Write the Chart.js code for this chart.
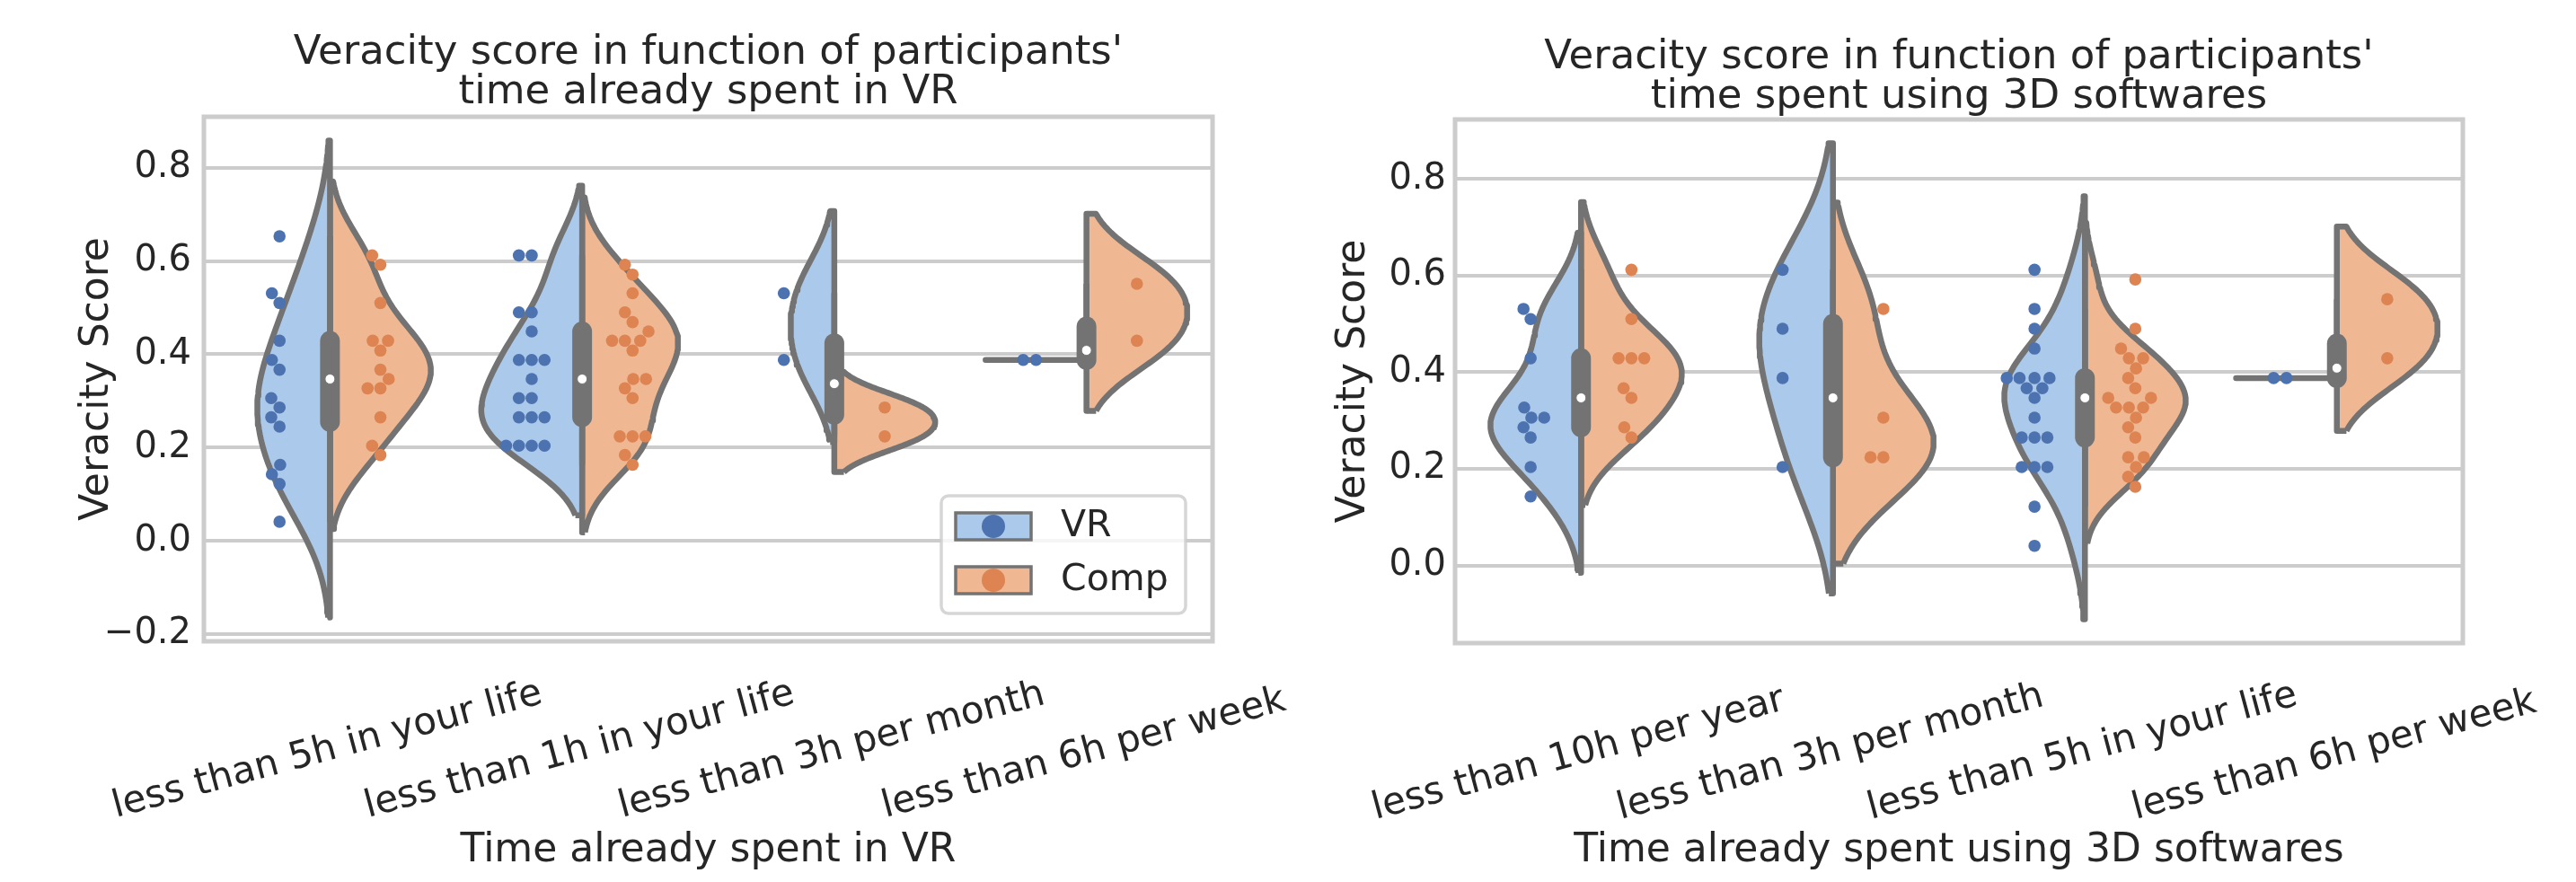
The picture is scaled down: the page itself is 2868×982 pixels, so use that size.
<!DOCTYPE html>
<html>
<head>
<meta charset="utf-8">
<title>Veracity score violins</title>
<script src="https://cdn.jsdelivr.net/npm/chart.js@4.4.1/dist/chart.umd.min.js"></script>
<style>
  html, body { margin: 0; padding: 0; background: #ffffff; }
  #wrap { position: relative; width: 2868px; height: 982px; }
  .panel { position: absolute; top: 0; width: 1434px; height: 982px; }
</style>
</head>
<body>
<div id="wrap">
  <div class="panel" style="left:0"><canvas id="vrChart" width="1434" height="982"></canvas></div>
  <div class="panel" style="left:1434px"><canvas id="softChart" width="1434" height="982"></canvas></div>
</div>
<script>
// hue levels
const groups = ["VR", "Comp"];

// left panel: time already spent in VR
const vrCategories = ["less than 5h in your life", "less than 1h in your life", "less than 3h per month", "less than 6h per week"];
const vrScoresVR = [
  [0.653, 0.531, 0.510, 0.429, 0.388, 0.367, 0.306, 0.286, 0.265, 0.245, 0.163, 0.143, 0.122, 0.041],
  [0.612, 0.612, 0.490, 0.490, 0.449, 0.388, 0.388, 0.388, 0.347, 0.306, 0.306, 0.265, 0.265, 0.265, 0.204, 0.204, 0.204, 0.204],
  [0.531, 0.388],
  [0.388, 0.388]
];
const vrScoresComp = [
  [0.612, 0.592, 0.510, 0.429, 0.429, 0.408, 0.367, 0.347, 0.327, 0.327, 0.265, 0.204, 0.184],
  [0.592, 0.571, 0.531, 0.490, 0.469, 0.449, 0.429, 0.429, 0.429, 0.408, 0.347, 0.347, 0.327, 0.306, 0.224, 0.224, 0.224, 0.184, 0.163],
  [0.286, 0.224],
  [0.551, 0.429]
];

// right panel: time spent using 3D softwares
const softCategories = ["less than 10h per year", "less than 3h per month", "less than 5h in your life", "less than 6h per week"];
const softScoresVR = [
  [0.531, 0.510, 0.429, 0.327, 0.306, 0.306, 0.286, 0.265, 0.204, 0.143],
  [0.612, 0.490, 0.388, 0.204],
  [0.612, 0.531, 0.490, 0.449, 0.388, 0.388, 0.388, 0.388, 0.367, 0.367, 0.347, 0.306, 0.265, 0.265, 0.265, 0.204, 0.204, 0.204, 0.122, 0.041],
  [0.388, 0.388]
];
const softScoresComp = [
  [0.612, 0.510, 0.429, 0.429, 0.429, 0.367, 0.347, 0.286, 0.265],
  [0.531, 0.306, 0.224, 0.224],
  [0.592, 0.490, 0.449, 0.429, 0.429, 0.408, 0.388, 0.367, 0.347, 0.347, 0.327, 0.327, 0.327, 0.306, 0.286, 0.265, 0.224, 0.224, 0.204, 0.184, 0.163],
  [0.551, 0.429]
];

const FONT = '"DejaVu Sans", "Liberation Sans", sans-serif';
const TEXT = "#262626";
const GRAY = "#737373";
const GRID = "#cccccc";
const FILL = ["#abc9ea", "#efb792"];
const DOT = ["#4c72b0", "#dd8452"];
const HALF = 0.4;      // half violin width, in category units
const SWARM_D = 13.6;  // swarm point spacing, px

// seaborn-like kde (scott bandwidth, cut = 2, 100 grid points)
function kde(values) {
    const n = values.length;
    const mean = values.reduce((a, b) => a + b, 0) / n;
    const sd = Math.sqrt(values.reduce((a, v) => a + (v - mean) ** 2, 0) / (n - 1));
    const bw = sd * Math.pow(n, -1 / 5);
    const lo = Math.min(...values) - 2 * bw;
    const hi = Math.max(...values) + 2 * bw;
    const support = [], density = [];
    for (let k = 0; k < 100; k++) {
        const s = lo + (hi - lo) * k / 99;
        let d = 0;
        values.forEach(v => { d += Math.exp(-0.5 * ((s - v) / bw) ** 2); });
        support.push(s);
        density.push(d / (n * bw * Math.sqrt(2 * Math.PI)));
    }
    return { support, density };
}

function quantile(sorted, q) {
    const pos = (sorted.length - 1) * q;
    const a = Math.floor(pos), b = Math.ceil(pos);
    return sorted[a] + (sorted[b] - sorted[a]) * (pos - a);
}

function boxStats(values) {
    const s = [...values].sort((a, b) => a - b);
    const q1 = quantile(s, 0.25), med = quantile(s, 0.5), q3 = quantile(s, 0.75);
    const lim = 1.5 * (q3 - q1);
    const lo = Math.min(...s.filter(v => v >= q1 - lim));
    const hi = Math.max(...s.filter(v => v <= q3 + lim));
    return { q1, med, q3, lo, hi };
}

// seaborn's beeswarm, in pixel space
function beeswarm(center, yPx, d) {
    const order = yPx.map((y, k) => k).sort((a, b) => yPx[b] - yPx[a]);
    const placed = [];
    const out = new Array(yPx.length);
    order.forEach(k => {
        const y = -yPx[k];
        let x = center;
        const neighbors = [];
        for (let j = placed.length - 1; j >= 0; j--) {
            if (y - placed[j].y < d) neighbors.unshift(placed[j]);
            else break;
        }
        if (neighbors.length) {
            const cands = [{ x: center }];
            let leftFirst = true;
            neighbors.forEach(nb => {
                const dy = y - nb.y;
                const dx = Math.sqrt(Math.max(d * d - dy * dy, 0)) * 1.05;
                const l = { x: nb.x - dx }, r = { x: nb.x + dx };
                if (leftFirst) cands.push(l, r); else cands.push(r, l);
                leftFirst = !leftFirst;
            });
            cands.forEach((c, idx) => { c.off = Math.round(Math.abs(c.x - center) * 1e6) / 1e6; c.idx = idx; });
            cands.sort((a, b) => a.off - b.off || a.idx - b.idx);
            const hit = cands.find(c => neighbors.every(nb => (nb.x - c.x) ** 2 + (nb.y - y) ** 2 >= d * d));
            if (hit) x = hit.x;
        }
        placed.push({ x, y });
        out[k] = x;
    });
    return out;
}

const framePlugin = {
    id: "frame",
    beforeDatasetsDraw(chart) {
        const { ctx, chartArea: a } = chart;
        ctx.save();
        ctx.strokeStyle = GRID;
        ctx.lineWidth = 5;
        ctx.strokeRect(a.left, a.top, a.right - a.left, a.bottom - a.top);
        ctx.restore();
    }
};

const titlePlugin = {
    id: "panelTitle",
    afterDraw(chart, args, opts) {
        const { ctx, chartArea: a } = chart;
        const cx = (a.left + a.right) / 2;
        ctx.save();
        ctx.font = `${opts.size}px ${FONT}`;
        ctx.fillStyle = TEXT;
        ctx.textAlign = "center";
        ctx.textBaseline = "alphabetic";
        opts.lines.forEach((t, k) => {
            ctx.fillText(t, cx, a.top - opts.gap - (opts.lines.length - 1 - k) * opts.step);
        });
        ctx.restore();
    }
};

// x tick labels, rotated and centred on their tick like matplotlib
const slantLabelPlugin = {
    id: "slantLabels",
    afterDraw(chart, args, opts) {
        const { ctx, chartArea: a, scales: { x } } = chart;
        const ang = opts.angle * Math.PI / 180;
        ctx.save();
        ctx.font = `${opts.size}px ${FONT}`;
        ctx.fillStyle = TEXT;
        ctx.textAlign = "center";
        ctx.textBaseline = "alphabetic";
        opts.labels.forEach((label, i) => {
            const w = ctx.measureText(label).width;
            const px = x.getPixelForValue(i);
            const py = a.bottom + opts.drop - (w / 2) * Math.sin(ang);
            ctx.save();
            ctx.translate(px, py);
            ctx.rotate(-ang);
            ctx.fillText(label, 0, 0);
            ctx.restore();
        });
        ctx.restore();
    }
};

const legendPlugin = {
    id: "splitLegend",
    afterDraw(chart, args, opts) {
        if (!opts.show) return;
        const { ctx, chartArea: a } = chart;
        const w = 272, h = 131;
        const left = a.right - 30 - w, top = a.bottom - 31 - h;
        ctx.save();
        ctx.beginPath();
        ctx.roundRect(left, top, w, h, 8);
        ctx.fillStyle = "rgba(255,255,255,0.8)";
        ctx.fill();
        ctx.strokeStyle = "rgba(204,204,204,0.8)";
        ctx.lineWidth = 3.5;
        ctx.stroke();
        groups.forEach((g, k) => {
            const hy = top + 19 + k * 60;
            ctx.fillStyle = FILL[k];
            ctx.fillRect(left + 16, hy, 84, 30);
            ctx.strokeStyle = GRAY;
            ctx.lineWidth = 3.5;
            ctx.strokeRect(left + 16, hy, 84, 30);
            ctx.beginPath();
            ctx.arc(left + 58, hy + 15, 13, 0, Math.PI * 2);
            ctx.fillStyle = DOT[k];
            ctx.fill();
            ctx.fillStyle = TEXT;
            ctx.font = `41px ${FONT}`;
            ctx.textAlign = "left";
            ctx.textBaseline = "middle";
            ctx.fillText(g, left + 133, hy + 15);
        });
        ctx.restore();
    }
};

function buildPanel(canvasId, categories, scoresVR, scoresComp, p) {
    const byGroup = [scoresVR, scoresComp];
    const datasets = [];
    let yLo = Infinity, yHi = -Infinity;

    categories.forEach((cat, i) => {
        // densities of both halves, scaled by the category max
        const halves = byGroup.map(sc => {
            const vals = sc[i];
            if (new Set(vals).size === 1) return { single: vals[0] };
            return kde(vals);
        });
        const maxD = Math.max(...halves.filter(h => h.density).map(h => Math.max(...h.density)));
        halves.forEach((h, j) => {
            const sign = j === 0 ? -1 : 1;
            if (h.density) {
                const pts = h.support.map((s, k) => ({ x: i + sign * HALF * h.density[k] / maxD, y: s }));
                pts.push({ x: i, y: h.support[h.support.length - 1] }, { x: i, y: h.support[0] }, pts[0]);
                yLo = Math.min(yLo, h.support[0]);
                yHi = Math.max(yHi, h.support[h.support.length - 1]);
                datasets.push({
                    type: "line", data: pts, showLine: true, fill: "shape",
                    backgroundColor: FILL[j], borderColor: GRAY, borderWidth: 6.5,
                    borderJoinStyle: "round", pointRadius: 0, tension: 0, order: 6
                });
            } else {
                datasets.push({
                    type: "line", data: [{ x: i - HALF, y: h.single }, { x: i, y: h.single }], showLine: true,
                    borderColor: GRAY, borderWidth: 6.5, borderCapStyle: "round", pointRadius: 0, order: 5
                });
            }
        });
        // inner box of the whole category
        const b = boxStats(scoresVR[i].concat(scoresComp[i]));
        datasets.push({
            type: "line", data: [{ x: i, y: b.lo }, { x: i, y: b.hi }], showLine: true,
            borderColor: GRAY, borderWidth: 6.5, pointRadius: 0, order: 5
        });
        datasets.push({
            type: "line", data: [{ x: i, y: b.q1 }, { x: i, y: b.q3 }], showLine: true,
            borderColor: GRAY, borderWidth: 22, borderCapStyle: "round", pointRadius: 0, order: 4
        });
        datasets.push({
            type: "scatter", data: [{ x: i, y: b.med }], pointRadius: 5.5,
            backgroundColor: "#ffffff", borderColor: GRAY, borderWidth: 1, order: 3
        });
    });

    // swarm datasets, laid out after the first pass
    const swarmIdx = byGroup.map((sc, j) => {
        datasets.push({
            type: "scatter", label: groups[j],
            data: sc.flatMap((vals, i) => vals.map(v => ({ x: i + (j === 0 ? -0.2 : 0.2), y: v }))),
            pointRadius: 6.8, borderWidth: 0, backgroundColor: DOT[j], order: 1
        });
        return datasets.length - 1;
    });

    const span = yHi - yLo;
    const chart = new Chart(document.getElementById(canvasId), {
        type: "scatter",
        data: { datasets },
        options: {
            responsive: false,
            animation: false,
            events: [],
            layout: { autoPadding: false, padding: { left: 0, right: p.padRight, top: p.padTop, bottom: 0 } },
            plugins: {
                legend: { display: false },
                tooltip: { enabled: false },
                title: { display: false },
                panelTitle: { lines: p.title, size: 45, gap: p.titleGap, step: 44 },
                slantLabels: { labels: categories, size: 42, angle: 15, drop: 196 },
                splitLegend: { show: p.legend }
            },
            scales: {
                x: {
                    type: "linear", min: -0.5, max: 3.5,
                    ticks: { display: false },
                    grid: { display: false },
                    border: { display: false },
                    title: {
                        display: true, text: p.xTitle, color: TEXT,
                        font: { family: FONT, size: 44 }, padding: { top: 0, bottom: 8 }
                    },
                    afterFit: s => { s.height = p.xAxisHeight; }
                },
                y: {
                    type: "linear", min: yLo - 0.05 * span, max: yHi + 0.05 * span,
                    ticks: {
                        stepSize: 0.2, includeBounds: false, color: TEXT, padding: p.tickPad,
                        font: { family: FONT, size: 40 },
                        callback: v => Number(v).toFixed(1).replace("-", "\u2212")
                    },
                    grid: { color: GRID, lineWidth: 4, drawTicks: false },
                    border: { display: false },
                    title: {
                        display: true, text: "Veracity Score", color: TEXT,
                        font: { family: FONT, size: 44 }, padding: { top: p.yTitlePad, bottom: 0 }
                    },
                    afterFit: s => { s.width = p.yAxisWidth; }
                }
            }
        },
        plugins: [framePlugin, titlePlugin, slantLabelPlugin, legendPlugin]
    });

    // place the swarm points now that the scales are known
    const xs = chart.scales.x, ys = chart.scales.y;
    byGroup.forEach((sc, j) => {
        const pts = [];
        sc.forEach((vals, i) => {
            const cx = xs.getPixelForValue(i + (j === 0 ? -0.2 : 0.2));
            const placed = beeswarm(cx, vals.map(v => ys.getPixelForValue(v)), SWARM_D);
            placed.forEach((px, k) => pts.push({ x: xs.getValueForPixel(px), y: vals[k] }));
        });
        chart.data.datasets[swarmIdx[j]].data = pts;
    });
    chart.update("none");
    return chart;
}

buildPanel("vrChart", vrCategories, vrScoresVR, vrScoresComp, {
    title: ["Veracity score in function of participants'", "time already spent in VR"],
    xTitle: "Time already spent in VR",
    padTop: 130, padRight: 84, yAxisWidth: 227, xAxisHeight: 268,
    yTitlePad: 82.6, tickPad: 14, titleGap: 15, legend: true
});

buildPanel("softChart", softCategories, softScoresVR, softScoresComp, {
    title: ["Veracity score in function of participants'", "time spent using 3D softwares"],
    xTitle: "Time already spent using 3D softwares",
    padTop: 133, padRight: 126, yAxisWidth: 186, xAxisHeight: 266,
    yTitlePad: 47, tickPad: 10, titleGap: 13, legend: false
});
</script>
</body>
</html>
